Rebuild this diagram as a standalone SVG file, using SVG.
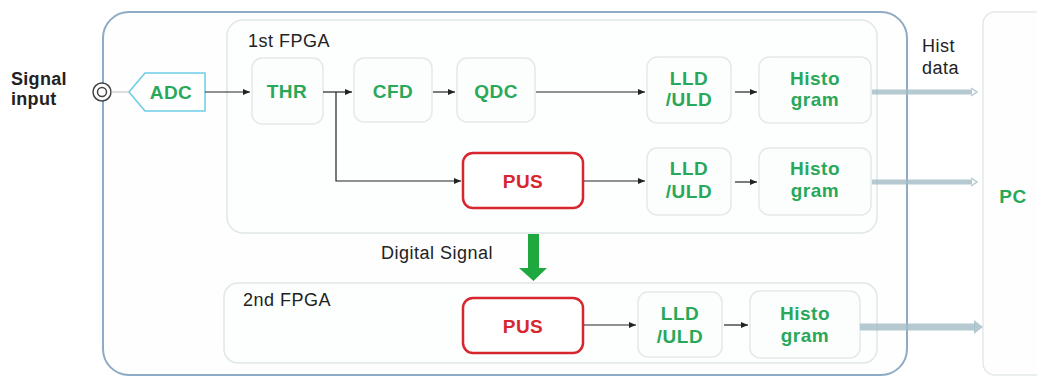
<svg xmlns="http://www.w3.org/2000/svg" width="1037" height="377" viewBox="0 0 1037 377">
<style>
.lbl{font-family:"Liberation Sans",Arial,sans-serif;font-size:18px;letter-spacing:0.5px;fill:#222}
.g{font-family:"Liberation Sans",Arial,sans-serif;font-size:19px;letter-spacing:0.5px;font-weight:bold;fill:#2aa85a;text-anchor:middle}
.r{font-family:"Liberation Sans",Arial,sans-serif;font-size:19px;letter-spacing:0.5px;font-weight:bold;fill:#d8262e;text-anchor:middle}
.node{fill:#fcfdfd;stroke:#e3e9e9;stroke-width:1.5}
.pus{fill:#fff;stroke:#d8262e;stroke-width:2.5}
.fpga{fill:#fdfefe;stroke:#dfe7e8;stroke-width:1.5}
.c{fill:none;stroke:#222;stroke-width:1.2}
</style>
<defs>
<marker id="ah" markerWidth="8" markerHeight="8" refX="7" refY="4" orient="auto" markerUnits="userSpaceOnUse">
<path d="M0,1 L7,4 L0,7 Z" fill="#222"/>
</marker>
</defs>
<rect id="outer" x="103" y="12" width="804" height="363" rx="26" fill="#fefefe" stroke="#8eaac4" stroke-width="2"/>
<g id="pc"><rect x="983" y="12" width="80" height="363" rx="12" fill="#fefefe" stroke="#e3e9e9" stroke-width="1.5"/>
<text class="g" x="1013" y="203">PC</text></g>
<g id="fpga1"><rect class="fpga" x="227" y="20" width="650" height="213" rx="16"/><text class="lbl" x="248" y="47">1st FPGA</text></g>
<g id="fpga2"><rect class="fpga" x="224" y="283" width="653" height="80" rx="14"/><text class="lbl" x="243" y="306">2nd FPGA</text></g>
<g id="signal"><text class="lbl" style="font-weight:bold;letter-spacing:0.3px" x="11" y="85">Signal</text><text class="lbl" style="font-weight:bold;letter-spacing:0.3px" x="11" y="105">input</text>
<circle cx="102" cy="92" r="9" fill="#fff" stroke="#444" stroke-width="1.5"/><circle cx="102" cy="92" r="4.5" fill="none" stroke="#444" stroke-width="1.5"/></g>
<g id="adc"><path d="M129,92 L145,73 L205,73 L205,111 L145,111 Z" fill="#fff" stroke="#6ccbe6" stroke-width="1.5"/><text class="g" x="171" y="99">ADC</text></g>
<g id="thr"><rect class="node" x="252" y="58" width="71" height="66" rx="10"/><text class="g" x="287" y="98">THR</text></g>
<g id="cfd"><rect class="node" x="354" y="58" width="78" height="64" rx="10"/><text class="g" x="393" y="98">CFD</text></g>
<g id="qdc"><rect class="node" x="457" y="58" width="78" height="64" rx="10"/><text class="g" x="496" y="98">QDC</text></g>
<g id="lld1"><rect class="node" x="647" y="57" width="84" height="66" rx="10"/><text class="g" x="689" y="85">LLD</text><text class="g" x="689" y="106">/ULD</text></g>
<g id="hist1"><rect class="node" x="759" y="57" width="112" height="66" rx="10"/><text class="g" x="815" y="85">Histo</text><text class="g" x="815" y="106">gram</text></g>
<g id="pus1"><rect class="pus" x="463" y="153" width="120" height="55" rx="10"/><text class="r" x="523" y="188">PUS</text></g>
<g id="lld2"><rect class="node" x="647" y="148" width="84" height="67" rx="10"/><text class="g" x="689" y="175">LLD</text><text class="g" x="689" y="198">/ULD</text></g>
<g id="hist2"><rect class="node" x="759" y="148" width="112" height="67" rx="10"/><text class="g" x="815" y="175">Histo</text><text class="g" x="815" y="197">gram</text></g>
<g id="pus2"><rect class="pus" x="463" y="298" width="120" height="55" rx="10"/><text class="r" x="523" y="333">PUS</text></g>
<g id="lld3"><rect class="node" x="638" y="292" width="84" height="65" rx="10"/><text class="g" x="680" y="320">LLD</text><text class="g" x="680" y="343">/ULD</text></g>
<g id="hist3"><rect class="node" x="750" y="291" width="110" height="67" rx="10"/><text class="g" x="805" y="320">Histo</text><text class="g" x="805" y="342">gram</text></g>
<text class="lbl" x="381" y="259">Digital Signal</text>
<text class="lbl" x="922" y="52">Hist</text>
<text class="lbl" x="922" y="74">data</text>
<g id="connectors">
<line x1="111" y1="92" x2="129" y2="92" stroke="#bbb" stroke-width="1"/>
<path class="c" d="M205,92 H250" marker-end="url(#ah)"/>
<path class="c" d="M323,92 H352" marker-end="url(#ah)"/>
<path class="c" d="M336,92 V181 H461" marker-end="url(#ah)"/>
<path class="c" d="M433,92 H455" marker-end="url(#ah)"/>
<path class="c" d="M536,92 H645" marker-end="url(#ah)"/>
<path class="c" d="M735,92 H757" marker-end="url(#ah)"/>
<path class="c" d="M584,181 H645" marker-end="url(#ah)"/>
<path class="c" d="M735,182 H757" marker-end="url(#ah)"/>
<path class="c" d="M584,325 H636" marker-end="url(#ah)"/>
<path class="c" d="M724,325 H748" marker-end="url(#ah)"/>
<g stroke-opacity="0.8" fill-opacity="0.8">
<path d="M872,92 H972" stroke="#a3bcc4" stroke-width="5" fill="none"/>
<path d="M971,88 L977,92 L971,96" fill="none" stroke="#a3bcc4" stroke-width="1.5"/>
<path d="M872,182 H972" stroke="#a3bcc4" stroke-width="5" fill="none"/>
<path d="M971,178 L977,182 L971,186" fill="none" stroke="#a3bcc4" stroke-width="1.5"/>
<path d="M860,327 H975" stroke="#a3bcc4" stroke-width="7" fill="none"/>
<path d="M974,320 L983,327 L974,334 Z" fill="#a3bcc4"/>
</g>
<path d="M528,234 H539 V268 H547 L533.5,281 L519,268 H528 Z" fill="#1ea83e"/>
</g>
</svg>
